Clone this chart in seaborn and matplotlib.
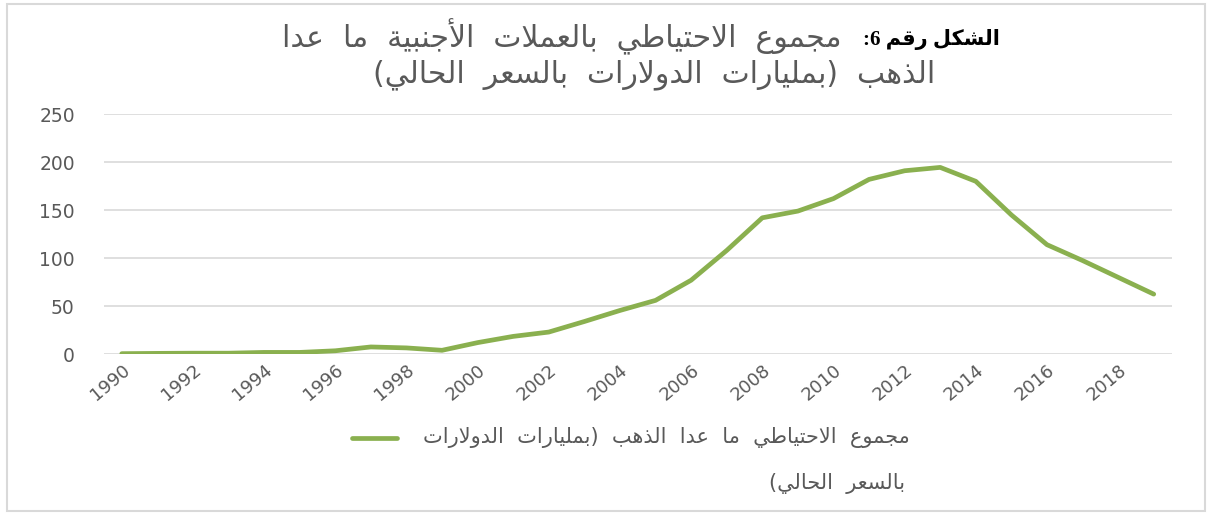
import re
import matplotlib
matplotlib.use("Agg")
import matplotlib.pyplot as plt
from matplotlib.lines import Line2D
from matplotlib.patches import Rectangle
import seaborn as sns
import pandas as pd

# ---------------- data ----------------
years = [1990, 1991, 1992, 1993, 1994, 1995, 1996, 1997, 1998, 1999,
         2000, 2001, 2002, 2003, 2004, 2005, 2006, 2007, 2008, 2009,
         2010, 2011, 2012, 2013, 2014, 2015, 2016, 2017, 2018, 2019]
reserves = [0.5, 0.8, 1.0, 1.0, 1.8, 1.8, 3.5, 7.5, 6.5, 4.0,
            12.0, 18.5, 23.0, 34.0, 45.5, 56.0, 77.0, 108.0, 142.0, 149.0,
            162.0, 182.0, 191.0, 194.5, 180.0, 145.0, 114.0, 97.5, 80.0, 62.5]
tick_years = [1990, 1992, 1994, 1996, 1998, 2000, 2002, 2004, 2006, 2008,
              2010, 2012, 2014, 2016, 2018]
y_ticks = [0, 50, 100, 150, 200, 250]

title_label = "الشكل رقم 6:"
title_line1 = "مجموع الاحتياطي بالعملات الأجنبية ما عدا"
title_line2 = "الذهب (بمليارات الدولارات بالسعر الحالي)"
legend_line1 = "مجموع الاحتياطي ما عدا الذهب (بمليارات الدولارات"
legend_line2 = "بالسعر الحالي)"

# ---------------- minimal Arabic shaping (presentation forms + RTL) ----------------
ARABIC = {
    '\u0627': (0xFE8D, 2), '\u0623': (0xFE83, 2), '\u0628': (0xFE8F, 4),
    '\u0629': (0xFE93, 2), '\u062A': (0xFE95, 4), '\u062C': (0xFE9D, 4),
    '\u062D': (0xFEA1, 4), '\u062F': (0xFEA9, 2), '\u0630': (0xFEAB, 2),
    '\u0631': (0xFEAD, 2), '\u0633': (0xFEB1, 4), '\u0634': (0xFEB5, 4),
    '\u0637': (0xFEC1, 4), '\u0639': (0xFEC9, 4), '\u0642': (0xFED5, 4),
    '\u0643': (0xFED9, 4), '\u0644': (0xFEDD, 4), '\u0645': (0xFEE1, 4),
    '\u0646': (0xFEE5, 4), '\u0647': (0xFEE9, 4), '\u0648': (0xFEED, 2),
    '\u064A': (0xFEF1, 4), 'LA': (0xFEFB, 2), 'LAA': (0xFEF7, 2),
}


def shape(s, wide_space=False):
    tokens = []
    i = 0
    while i < len(s):
        c = s[i]
        if c == '\u0644' and i + 1 < len(s) and s[i + 1] in ('\u0627', '\u0623'):
            tokens.append('LA' if s[i + 1] == '\u0627' else 'LAA')
            i += 2
        else:
            tokens.append(c)
            i += 1
    out = []
    for k, t in enumerate(tokens):
        if t not in ARABIC:
            out.append(t)
            continue
        base, n = ARABIC[t]
        prev = tokens[k - 1] if k > 0 else None
        nxt = tokens[k + 1] if k + 1 < len(tokens) else None
        jp = prev in ARABIC and ARABIC[prev][1] == 4
        jn = n == 4 and nxt in ARABIC
        if jp and jn:
            cp = base + 3
        elif jp:
            cp = base + 1
        elif jn:
            cp = base + 2
        else:
            cp = base
        out.append(chr(cp))
    vis = ''.join(out)[::-1]
    vis = vis.translate(str.maketrans({'(': ')', ')': '('}))
    vis = re.sub(r'[0-9]+', lambda m: m.group(0)[::-1], vis)
    if wide_space:
        vis = vis.replace(' ', '  ')
    return vis


# ---------------- plot ----------------
sns.set_theme(style="white")
plt.rcParams['font.family'] = ['DejaVu Sans']

df = pd.DataFrame({"year": years, "value": reserves})

fig = plt.figure(figsize=(12.09, 5.14), dpi=100)
ax = fig.add_axes([0.086, 0.311, 0.883, 0.467])

sns.lineplot(data=df, x="year", y="value", ax=ax, color="#8AB04F",
             linewidth=3.4, solid_capstyle="round", solid_joinstyle="round")

ax.set_xlim(1989.5, 2019.5)
ax.set_ylim(0, 250)
ax.set_yticks(y_ticks)
ax.set_xticks(tick_years)
ax.set_xticklabels([str(y) for y in tick_years], rotation=40, ha="right",
                   rotation_mode="anchor", fontsize=13, color="#595959")
ax.set_yticklabels([str(v) for v in y_ticks], fontsize=13.5, color="#595959")
ax.tick_params(axis="y", length=0, pad=21)
ax.tick_params(axis="x", length=0, pad=5)
ax.yaxis.grid(True, color="#d9d9d9", linewidth=1.2)
ax.xaxis.grid(False)
ax.set_axisbelow(True)
for sp in ax.spines.values():
    sp.set_visible(False)
ax.set_xlabel("")
ax.set_ylabel("")

W, H = 1209.0, 514.0

# title
fig.text(1000 / W, 1 - 40 / H, shape(title_label), ha="right", va="center",
         fontsize=15, fontweight="bold", color="black",
         family=["Liberation Serif", "DejaVu Sans"])
fig.text(842 / W, 1 - 37 / H, shape(title_line1, True), ha="right", va="center",
         fontsize=21.5, color="#595959")
fig.text(935 / W, 1 - 75 / H, shape(title_line2, True), ha="right", va="center",
         fontsize=21.5, color="#595959")

# legend
fig.add_artist(Line2D([352 / W, 397 / W], [1 - 438 / H, 1 - 438 / H],
                      transform=fig.transFigure, color="#8AB04F",
                      linewidth=3.4, solid_capstyle="round"))
fig.text(910 / W, 1 - 438 / H, shape(legend_line1, True), ha="right", va="center",
         fontsize=15, color="#595959")
fig.text(905 / W, 1 - 483 / H, shape(legend_line2, True), ha="right", va="center",
         fontsize=15, color="#595959")

# frame
fig.add_artist(Rectangle((7 / W, 3 / H), 1198 / W, 507 / H,
                         transform=fig.transFigure, fill=False,
                         edgecolor="#d9d9d9", linewidth=1.5))

fig.savefig("out.png", dpi=100)
